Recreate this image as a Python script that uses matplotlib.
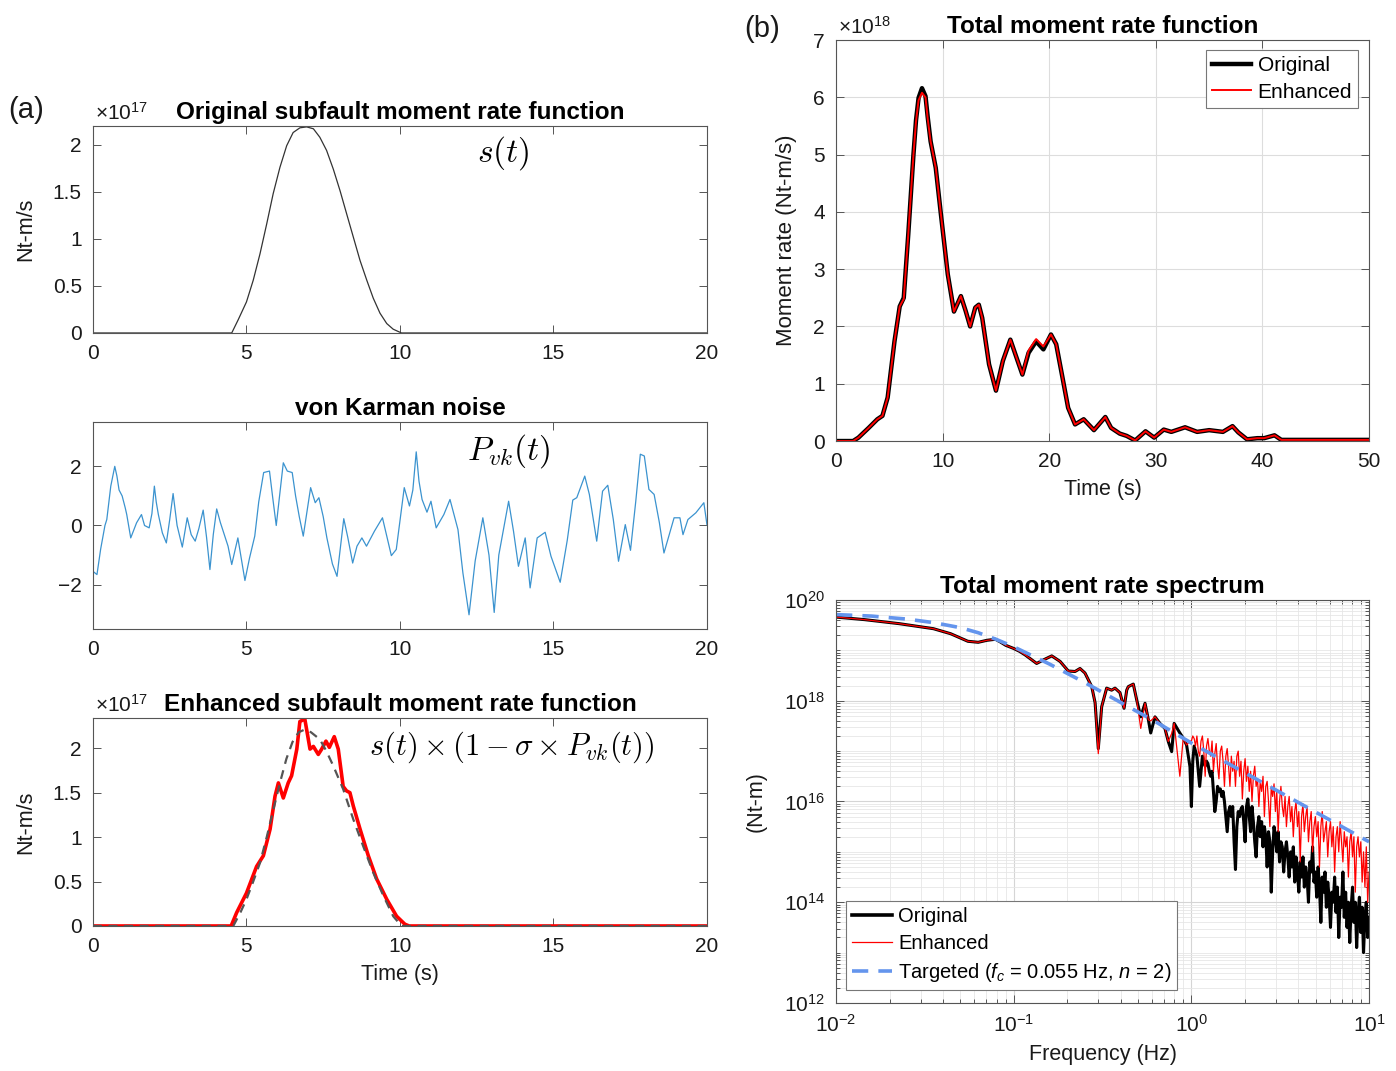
import numpy as np
import matplotlib
matplotlib.use("Agg")
import matplotlib.pyplot as plt
from matplotlib.ticker import FuncFormatter, LogLocator, NullFormatter, FixedLocator
from matplotlib.lines import Line2D

plt.rcParams['font.family'] = ['Liberation Sans', 'DejaVu Sans']
plt.rcParams['mathtext.fontset'] = 'custom'
plt.rcParams['mathtext.rm'] = 'Liberation Sans'
plt.rcParams['mathtext.it'] = 'Liberation Sans:italic'
plt.rcParams['mathtext.bf'] = 'Liberation Sans:bold'

# ---- data ----

# (a) original subfault moment rate function, x1e17 Nt-m/s
src_t = [0, 4.52, 4.73, 5.0, 5.22, 5.44, 5.66, 5.87, 6.09, 6.31, 6.52, 6.74, 6.96, 7.18,
         7.39, 7.61, 7.83, 8.05, 8.26, 8.48, 8.70, 8.92, 9.13, 9.35, 9.57, 9.78, 10.05, 20]
src_v = [0, 0, 0.14, 0.33, 0.56, 0.84, 1.16, 1.48, 1.76, 1.99, 2.13, 2.18, 2.19, 2.17,
         2.08, 1.94, 1.74, 1.51, 1.27, 1.02, 0.77, 0.56, 0.37, 0.21, 0.10, 0.04, 0, 0]

# same source as drawn (dashed) under the enhanced one
dash_t = [0, 4.57, 4.8, 5.0, 5.22, 5.44, 5.66, 5.87, 6.09, 6.3, 6.5, 6.7, 6.9, 7.1, 7.39,
          7.6, 7.83, 8.15, 8.48, 8.80, 9.13, 9.46, 9.78, 10.05, 20]
dash_v = [0, 0, 0.15, 0.3, 0.5, 0.71, 1.0, 1.3, 1.61, 1.88, 2.07, 2.18, 2.21, 2.18, 2.10,
          1.97, 1.80, 1.54, 1.20, 0.90, 0.60, 0.34, 0.11, 0, 0]

# von Karman noise
noise_t = [0, 0.13, 0.25, 0.39, 0.45, 0.58, 0.71, 0.78, 0.85, 0.95, 1.05, 1.1, 1.23, 1.42,
           1.58, 1.68, 1.83, 1.92, 2.0, 2.06, 2.13, 2.26, 2.39, 2.5, 2.61, 2.74, 2.91, 3.07,
           3.2, 3.33, 3.45, 3.59, 3.7, 3.81, 3.92, 4.03, 4.15, 4.26, 4.4, 4.52, 4.72, 4.95,
           5.1, 5.27, 5.4, 5.56, 5.75, 5.86, 5.97, 6.08, 6.2, 6.33, 6.49, 6.6, 6.72, 6.85,
           7.09, 7.24, 7.36, 7.5, 7.62, 7.8, 7.95, 8.17, 8.3, 8.46, 8.6, 8.76, 8.91, 9.17,
           9.43, 9.72, 9.88, 10.14, 10.31, 10.42, 10.53, 10.62, 10.72, 10.88, 11.01, 11.18,
           11.43, 11.63, 11.89, 12.05, 12.25, 12.45, 12.7, 12.9, 13.07, 13.22, 13.37, 13.54,
           13.7, 13.86, 14.08, 14.24, 14.47, 14.73, 14.92, 15.22, 15.45, 15.63, 15.76, 16.02,
           16.17, 16.41, 16.6, 16.77, 16.95, 17.12, 17.34, 17.51, 17.68, 17.83, 17.96, 18.11,
           18.28, 18.45, 18.6, 18.93, 19.12, 19.22, 19.38, 19.64, 19.9, 20]
noise_v = [-1.55, -1.66, -0.8, 0, 0.2, 1.33, 2.0, 1.67, 1.2, 1.0, 0.6, 0.37, -0.42, 0.09,
           0.37, 0, -0.08, 0.4, 1.33, 0.8, 0.37, -0.25, -0.59, 0.2, 1.08, 0, -0.73, 0.26,
           -0.31, -0.53, -0.1, 0.52, -0.4, -1.49, -0.3, 0.56, 0.1, -0.25, -0.7, -1.32, -0.42, -1.86,
           -1.1, -0.36, 0.8, 1.79, 1.84, 0.9, 0, 1.0, 2.12, 1.84, 1.79, 1.0, 0.3, -0.36,
           1.28, 0.77, 0.94, 0.3, -0.42, -1.3, -1.72, 0.23, -0.4, -1.27, -0.7, -0.42, -0.7, -0.19,
           0.26, -1.02, -0.81, 1.28, 0.66, 1.2, 2.49, 1.5, 0.88, 0.45, 0.82, -0.08,
           0.37, 0.88, -0.14, -1.6, -3.02, -1.2, 0.26, -1.0, -2.94, -1.0, -0.14, 0.82,
           -0.2, -1.38, -0.42, -2.11, -0.42, -0.23, -1.04, -1.92, -0.5, 0.86, 0.94, 1.67,
           1.05, -0.53, 1.16, 1.36, 0.2, -1.21, 0.03, -0.84, 0.8, 2.41, 2.35, 1.22,
           1.05, 0.1, -0.93, 0.26, 0.26, -0.31, 0.2, 0.43, 0.77, 0.03]

# enhanced subfault moment rate function, x1e17 Nt-m/s
enh_t = [0, 4.5, 4.68, 5.0, 5.33, 5.55, 5.77, 5.93, 6.04, 6.2, 6.36, 6.47, 6.64, 6.74,
         6.9, 7.07, 7.18, 7.34, 7.45, 7.59, 7.7, 7.86, 7.99, 8.15, 8.26, 8.37, 8.48, 8.70,
         8.97, 9.24, 9.57, 9.89, 10.16, 10.3, 20]
enh_v = [0, 0, 0.15, 0.37, 0.67, 0.79, 1.09, 1.46, 1.61, 1.44, 1.61, 1.69, 1.99, 2.30,
         2.33, 1.99, 2.02, 1.93, 1.99, 2.08, 2.01, 2.13, 1.99, 1.57, 1.52, 1.50, 1.35, 1.09,
         0.79, 0.53, 0.30, 0.11, 0.02, 0, 0]

# (b) total moment rate function, x1e18 Nt-m/s
tot_t = [0, 1.6, 2.1, 3.06, 3.87, 4.35, 4.84, 5.48, 5.97, 6.35, 6.77, 7.26, 7.5, 7.74, 8.06,
         8.39, 8.6, 8.87, 9.35, 9.84, 10.48, 11.06, 11.71, 12.16, 12.58, 13.06, 13.39, 13.71,
         14.35, 15.0, 15.65, 16.35, 16.94, 17.48, 18.06, 18.77, 19.45, 20.16, 20.65, 21.29,
         21.77, 22.42, 23.23, 24.19, 25.26, 25.8, 26.61, 27.26, 28.06, 29.03, 29.84, 30.74,
         31.45, 32.74, 33.87, 35.0, 36.29, 37.19, 37.74, 38.55, 39.52, 40.16, 41.13, 41.77,
         43.4, 50]
tot_orig = [0, 0, 0.06, 0.23, 0.38, 0.44, 0.76, 1.74, 2.35, 2.5, 3.6, 5.0, 5.6, 5.99, 6.16,
            6.02, 5.65, 5.23, 4.77, 3.95, 2.91, 2.26, 2.53, 2.27, 2.0, 2.33, 2.38, 2.15,
            1.34, 0.88, 1.4, 1.77, 1.45, 1.16, 1.54, 1.74, 1.6, 1.86, 1.69, 1.06,
            0.58, 0.29, 0.38, 0.19, 0.42, 0.23, 0.13, 0.09, 0.01, 0.17, 0.06, 0.2,
            0.16, 0.24, 0.16, 0.19, 0.16, 0.26, 0.15, 0.03, 0.05, 0.05, 0.1, 0.02,
            0.02, 0.02]
tot_enh = [0, 0, 0.06, 0.23, 0.38, 0.44, 0.76, 1.74, 2.35, 2.48, 3.6, 5.0, 5.58, 5.95, 6.08,
           6.0, 5.62, 5.23, 4.77, 3.95, 2.91, 2.26, 2.53, 2.27, 2.0, 2.33, 2.38, 2.15,
           1.34, 0.88, 1.4, 1.77, 1.45, 1.16, 1.58, 1.78, 1.65, 1.86, 1.69, 1.06,
           0.58, 0.29, 0.38, 0.19, 0.42, 0.23, 0.13, 0.09, 0.01, 0.17, 0.06, 0.2,
           0.16, 0.24, 0.16, 0.19, 0.16, 0.26, 0.15, 0.03, 0.05, 0.05, 0.1, 0.02,
           0.02, 0.02]

# total moment rate spectrum, log10 values
spec_logf_lo = [-2.0, -1.84, -1.645, -1.452, -1.355, -1.258, -1.2, -1.15, -1.103, -1.077,
                -1.045, -1.002, -0.967, -0.936, -0.871, -0.833, -0.786, -0.739, -0.693,
                -0.655, -0.627, -0.599, -0.561, -0.542, -0.524, -0.505, -0.477, -0.449,
                -0.43, -0.402, -0.379, -0.364, -0.355, -0.327, -0.308, -0.285, -0.261,
                -0.242, -0.229, -0.205, -0.177, -0.149, -0.13, -0.111, -0.097, -0.065,
                -0.046, -0.027, -0.008]
spec_orig_lo = [19.66, 19.61, 19.53, 19.43, 19.33, 19.18, 19.16, 19.2, 19.22, 19.17,
                19.1, 19.04, 18.98, 18.91, 18.74, 18.81, 18.89, 18.78, 18.59, 18.58,
                18.64, 18.55, 18.28, 17.96, 17.05, 17.88, 18.25, 18.21, 18.25, 18.16,
                17.85, 18.21, 18.28, 18.33, 18.02, 17.68, 17.95, 17.62, 17.36, 17.68,
                17.55, 17.45, 17.19, 16.99, 17.55, 17.36, 17.26, 17.12, 16.69]
spec_enh_lo = [19.66, 19.61, 19.53, 19.43, 19.33, 19.18, 19.16, 19.2, 19.22, 19.17,
               19.1, 19.04, 18.98, 18.91, 18.74, 18.81, 18.89, 18.78, 18.59, 18.58,
               18.64, 18.55, 18.28, 17.96, 16.95, 17.88, 18.25, 18.21, 18.25, 18.16,
               17.85, 18.21, 18.28, 18.33, 18.02, 17.45, 17.95, 17.62, 17.6, 17.68,
               17.55, 17.45, 17.19, 17.35, 17.55, 16.5, 17.26, 17.12, 17.2]
# 1 Hz to 10 Hz, evenly spaced in log frequency
spec_orig_hi = [15.9, 16.8, 17.1, 17.0, 16.9, 16.6, 16.3,
                16.6, 16.9, 16.8, 16.7, 16.8, 16.75,
                16.6, 16.5, 16.6, 16.2, 15.8, 16.0,
                16.3, 16.2, 16.25, 16.1, 16.2, 16.0,
                15.7, 15.4, 15.8, 15.9, 15.7, 15.9,
                15.2, 14.65, 15.5, 15.8, 15.7, 15.85,
                15.9, 15.6, 15.2, 15.9, 16.05, 15.7,
                15.4, 15.9, 15.6, 15.2, 14.9, 15.5, 15.7, 15.3,
                15.6, 15.1, 15.5, 15.3, 14.7, 15.4, 15.2, 14.2, 15.0, 15.5,
                15.3, 15.0, 15.4, 14.8, 15.2, 15.1, 14.6, 15.0, 15.2, 14.9,
                14.5, 15.0, 14.7, 15.1, 14.4, 14.9, 14.6, 14.2, 14.8, 14.5,
                14.9, 14.3, 14.7, 14.5, 14.0, 14.8, 14.6, 15.1, 14.4, 14.6,
                14.1, 14.7, 14.3, 13.6, 14.5, 14.2, 14.6, 13.9, 14.4, 14.1,
                13.5, 14.2, 14.0, 14.5, 13.8, 14.3, 13.3, 14.1, 13.9, 14.6,
                13.7, 14.2, 13.5, 14.0, 13.2, 13.9, 14.3, 13.6, 14.0, 13.1,
                13.8, 14.1, 13.4, 13.9, 13.0, 13.7, 14.0, 13.3, 13.7]
spec_enh_hi = [17.2, 17.3, 17.25, 17.1, 17.3, 17.0, 16.9,
               17.2, 17.3, 17.0, 16.5, 17.1, 17.25,
               17.0, 16.9, 17.2, 16.6, 16.95, 17.15,
               16.7, 16.45, 17.0, 17.1, 16.8, 16.3,
               16.9, 17.05, 16.7, 16.3, 16.9, 16.6,
               16.8, 16.3, 16.9, 17.0, 16.5, 16.8,
               16.05, 16.6, 16.85, 16.4, 16.7, 16.2,
               16.6, 16.0, 16.5, 16.7, 16.3, 16.45, 15.9, 16.4,
               16.2, 16.5, 15.7, 16.3, 16.4, 16.0, 15.5, 16.3, 16.1, 16.35,
               15.8, 16.2, 15.4, 16.0, 16.3, 15.9, 15.7, 16.1, 15.5, 15.9,
               16.1, 15.6, 15.9, 15.3, 15.8, 16.0, 15.5, 15.8, 14.8, 15.7,
               15.95, 15.4, 15.7, 15.9, 15.2, 15.6, 15.8, 15.0, 15.5, 15.7,
               15.3, 15.6, 14.7, 15.5, 15.8, 15.2, 15.4, 15.6, 14.9, 15.4,
               15.6, 15.1, 15.5, 14.6, 15.3, 15.5, 15.0, 15.6, 15.2, 14.8,
               15.4, 15.1, 15.3, 14.5, 15.2, 15.4, 14.9, 15.3, 14.2, 15.1,
               15.3, 14.9, 15.2, 14.4, 15.0, 14.3, 15.1, 14.0, 14.6]
targ_logf = [-2.0, -1.8, -1.6, -1.45, -1.3, -1.2, -1.1, -1.0, -0.9, -0.8, -0.6, -0.4,
             -0.2, 0.0, 0.5, 1.0]
targ_logA = [19.71, 19.68, 19.62, 19.55, 19.45, 19.35, 19.22, 19.07, 18.9, 18.73, 18.36,
             17.97, 17.58, 17.16, 16.18, 15.2]

# ---- drawing ----
TXT = '#1a1a1a'
SP = '#555555'
FS = 15
TFS = 17.5


def fmt_g(v, p):
    return f'{v:g}'.replace('-', '\u2212')


def style(ax):
    for s in ax.spines.values():
        s.set_color(SP)
        s.set_linewidth(0.8)
    ax.tick_params(which='both', direction='in', top=True, right=True, colors=SP,
                   labelcolor=TXT, labelsize=FS, width=0.7)
    ax.tick_params(which='major', length=6, pad=8)
    ax.tick_params(which='minor', length=3)


fig = plt.figure(figsize=(13.96, 10.71), dpi=100)

# (a) top
ax1 = fig.add_axes([0.0666, 0.6891, 0.4398, 0.1933])
ax1.plot(src_t, src_v, color='#333333', lw=0.9)
ax1.set_xlim(0, 20)
ax1.set_ylim(0, 2.2)
ax1.set_xticks([0, 5, 10, 15, 20])
ax1.set_yticks([0, 0.5, 1, 1.5, 2])
ax1.yaxis.set_major_formatter(FuncFormatter(fmt_g))
style(ax1)
ax1.set_ylabel('Nt-m/s', fontsize=15.5, color=TXT)
ax1.yaxis.set_label_coords(-0.093, 0.5)
ax1.set_title('Original subfault moment rate function', fontsize=TFS, fontweight='bold',
              color='black', pad=5)
ax1.text(0.003, 1.012, r'$\mathregular{\times10^{17}}$', transform=ax1.transAxes,
         fontsize=15, color=TXT, ha='left', va='bottom')
ax1.text(0.668, 0.87, r'$s(t)$', transform=ax1.transAxes, fontsize=24,
         math_fontfamily='cm', ha='center', va='center')

# (a) middle
ax2 = fig.add_axes([0.0666, 0.4127, 0.4398, 0.1933])
ax2.plot(noise_t, noise_v, color='#3b93cf', lw=0.9)
ax2.set_xlim(0, 20)
ax2.set_ylim(-3.5, 3.5)
ax2.set_xticks([0, 5, 10, 15, 20])
ax2.set_yticks([-2, 0, 2])
ax2.yaxis.set_major_formatter(FuncFormatter(fmt_g))
style(ax2)
ax2.set_title('von Karman noise', fontsize=TFS, fontweight='bold', color='black', pad=5)
ax2.text(0.678, 0.86, r'$P_{vk}(t)$', transform=ax2.transAxes, fontsize=24,
         math_fontfamily='cm', ha='center', va='center')

# (a) bottom
ax3 = fig.add_axes([0.0666, 0.1354, 0.4398, 0.1942])
ax3.plot(enh_t, enh_v, color='#ff0000', lw=2.6)
ax3.plot(dash_t, dash_v, color='#555555', lw=1.6, ls=(0, (4, 3)))
ax3.set_xlim(0, 20)
ax3.set_ylim(0, 2.34)
ax3.set_xticks([0, 5, 10, 15, 20])
ax3.set_yticks([0, 0.5, 1, 1.5, 2])
ax3.yaxis.set_major_formatter(FuncFormatter(fmt_g))
style(ax3)
ax3.set_ylabel('Nt-m/s', fontsize=15.5, color=TXT)
ax3.yaxis.set_label_coords(-0.093, 0.5)
ax3.set_xlabel('Time (s)', fontsize=15.5, color=TXT, labelpad=6)
ax3.set_title('Enhanced subfault moment rate function', fontsize=TFS, fontweight='bold',
              color='black', pad=5)
ax3.text(0.003, 1.012, r'$\mathregular{\times10^{17}}$', transform=ax3.transAxes,
         fontsize=15, color=TXT, ha='left', va='bottom')
ax3.text(0.682, 0.86, r'$s(t)\times(1-\sigma\times P_{vk}(t))$', transform=ax3.transAxes,
         fontsize=22, math_fontfamily='cm', ha='center', va='center')

# (b) top
ax4 = fig.add_axes([0.5989, 0.5882, 0.3818, 0.3744])
ax4.plot(tot_t, tot_orig, color='black', lw=3.2, label='Original')
ax4.plot(tot_t, tot_enh, color='#ff0000', lw=1.4, label='Enhanced')
ax4.set_xlim(0, 50)
ax4.set_ylim(0, 7)
ax4.set_xticks([0, 10, 20, 30, 40, 50])
ax4.set_yticks(range(8))
ax4.grid(True, color='#dddddd', lw=0.8)
ax4.set_axisbelow(True)
style(ax4)
ax4.set_ylabel('Moment rate (Nt-m/s)', fontsize=16, color=TXT)
ax4.yaxis.set_label_coords(-0.074, 0.5)
ax4.set_xlabel('Time (s)', fontsize=15.5, color=TXT, labelpad=6)
ax4.set_title('Total moment rate function', fontsize=TFS, fontweight='bold',
              color='black', pad=5)
ax4.text(0.003, 1.005, r'$\mathregular{\times10^{18}}$', transform=ax4.transAxes,
         fontsize=15, color=TXT, ha='left', va='bottom')
leg = ax4.legend(loc='upper right', bbox_to_anchor=(0.98, 0.975), borderaxespad=0,
                 fontsize=FS, frameon=True, fancybox=False, framealpha=1,
                 edgecolor='#777777', handlelength=1.9, handletextpad=0.3,
                 labelspacing=0.35, borderpad=0.3)
leg.get_frame().set_linewidth(0.8)

# (b) bottom
ax5 = fig.add_axes([0.5989, 0.0635, 0.3818, 0.3763])
f_lo = 10 ** np.array(spec_logf_lo)
ax5.plot(np.concatenate([f_lo, np.logspace(0, 1, len(spec_orig_hi))]),
         10 ** np.array(spec_orig_lo + spec_orig_hi), color='black', lw=2.2)
ax5.plot(np.concatenate([f_lo, np.logspace(0, 1, len(spec_enh_hi))]),
         10 ** np.array(spec_enh_lo + spec_enh_hi), color='#ff0000', lw=0.9)
ax5.plot(10 ** np.array(targ_logf), 10 ** np.array(targ_logA), color='#6495ed',
         lw=2.6, ls=(0, (4.5, 2.8)))
ax5.set_xscale('log')
ax5.set_yscale('log')
ax5.set_xlim(1e-2, 1e1)
ax5.set_ylim(1e12, 1e20)
ax5.xaxis.set_major_locator(FixedLocator([1e-2, 1e-1, 1e0, 1e1]))
ax5.xaxis.set_minor_locator(LogLocator(base=10, subs=np.arange(2, 10), numticks=20))
ax5.yaxis.set_major_locator(FixedLocator([1e12, 1e14, 1e16, 1e18, 1e20]))
ax5.yaxis.set_minor_locator(LogLocator(base=10, subs=np.arange(1, 10), numticks=30))
ax5.xaxis.set_minor_formatter(NullFormatter())
ax5.yaxis.set_minor_formatter(NullFormatter())
ax5.grid(True, which='major', color='#d5d5d5', lw=0.8)
ax5.grid(True, which='minor', color='#e6e6e6', lw=0.6)
ax5.set_axisbelow(True)
style(ax5)
ax5.set_ylabel('(Nt-m)', fontsize=15.5, color=TXT)
ax5.yaxis.set_label_coords(-0.13, 0.5)
ax5.set_xlabel('Frequency (Hz)', fontsize=15.5, color=TXT, labelpad=6)
ax5.set_title('Total moment rate spectrum', fontsize=TFS, fontweight='bold',
              color='black', pad=5)
handles = [Line2D([], [], color='black', lw=2.6),
           Line2D([], [], color='#ff0000', lw=0.9),
           Line2D([], [], color='#6495ed', lw=2.6, ls=(0, (4.5, 2.8)))]
labels = ['Original', 'Enhanced', r'Targeted ($\mathit{f_c}$ = 0.055 Hz, $\mathit{n}$ = 2)']
leg2 = ax5.legend(handles, labels, loc='lower left', bbox_to_anchor=(0.018, 0.032),
                  borderaxespad=0, fontsize=14.5, frameon=True, fancybox=False,
                  framealpha=1, edgecolor='#777777', handlelength=2.0,
                  handletextpad=0.3, labelspacing=0.4, borderpad=0.3)
leg2.get_frame().set_linewidth(0.8)

fig.text(0.006, 0.89, '(a)', fontsize=21, color=TXT)
fig.text(0.533, 0.965, '(b)', fontsize=21, color=TXT)

fig.savefig('out.png', dpi=100, facecolor='white')
